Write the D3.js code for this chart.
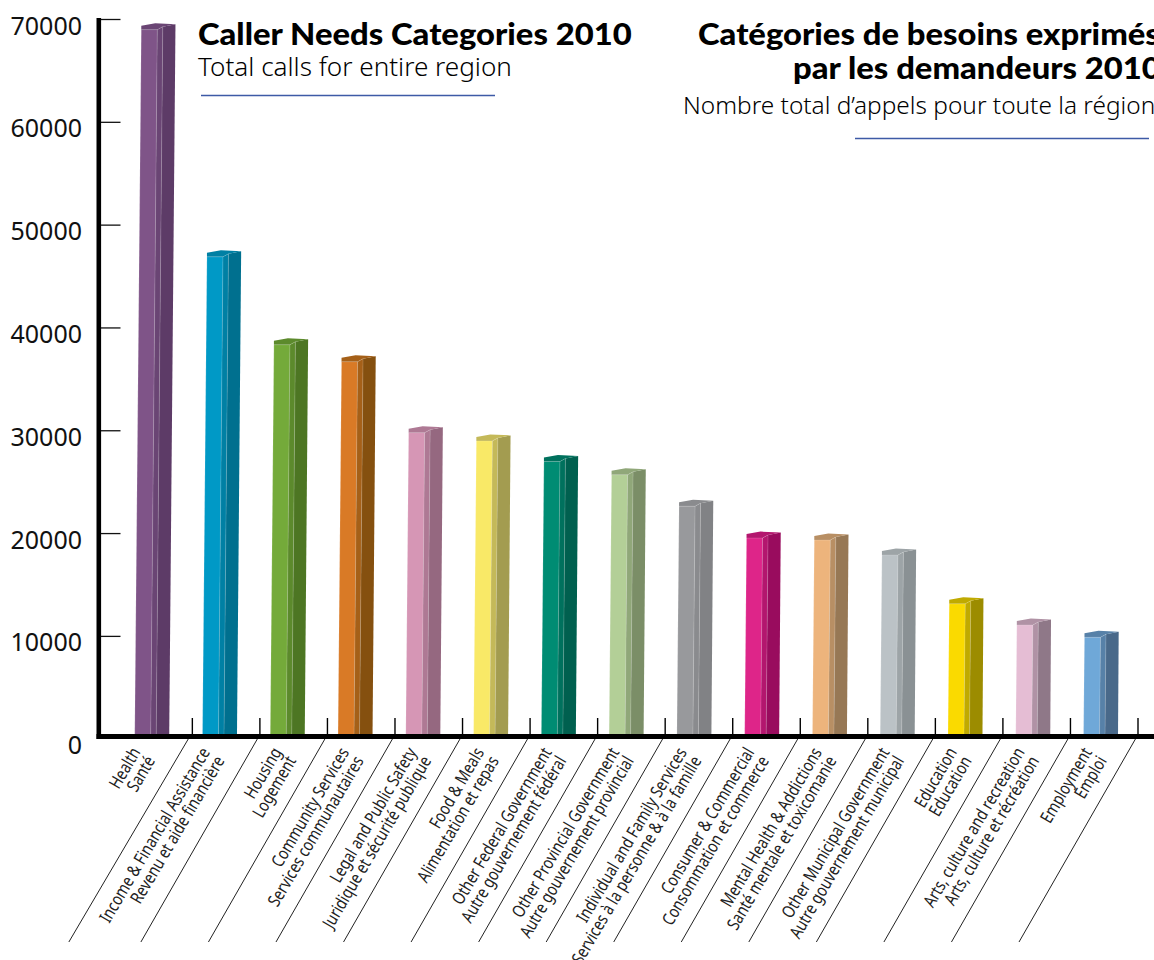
<!DOCTYPE html>
<html>
<head>
<meta charset="utf-8">
<script src="https://cdnjs.cloudflare.com/ajax/libs/d3/7.8.5/d3.min.js"></script>
<style>
  html, body { margin: 0; padding: 0; background: #fff; overflow: hidden; }
  svg { display: block; }
</style>
</head>
<body>
<svg id="chart" width="1154" height="960"></svg>
<script>
// Calls per need category, 2010
const categoriesEn = ["Health", "Income & Financial Assistance", "Housing", "Community Services", "Legal and Public Safety", "Food & Meals", "Other Federal Government", "Other Provincial Government", "Individual and Family Services", "Consumer & Commercial", "Mental Health & Addictions", "Other Municipal Government", "Education", "Arts, culture and recreation", "Employment"];
const categoriesFr = ["Santé", "Revenu et aide financière", "Logement", "Services communautaires", "Juridique et sécurité publique", "Alimentation et repas", "Autre gouvernement fédéral", "Autre gouvernement provincial", "Services à la personne & à la famille", "Consommation et commerce", "Santé mentale et toxicomanie", "Autre gouvernement municipal", "Education", "Arts, culture et récréation", "Emploi"];
const calls = [69500, 47400, 38850, 37200, 30300, 29500, 27500, 26200, 23150, 20050, 19850, 18400, 13650, 11600, 10400];
const yTicks = [0, 10000, 20000, 30000, 40000, 50000, 60000, 70000];
const frontColors = ["#7f5488", "#0099c6", "#74aa3a", "#d97a26", "#d696b5", "#f9e967", "#008c73", "#b3cf97", "#98999c", "#de2589", "#edb47c", "#bbc2c6", "#fada00", "#e5bdd4", "#6fa8d8"];
const sideColors = ["#5d3b67", "#00708f", "#4d7623", "#85500f", "#956880", "#a39c50", "#00604f", "#7b8e67", "#818285", "#990c5e", "#977855", "#8a9194", "#9c8c00", "#8f7888", "#49698a"];

const svg = d3.select("#chart");
const ruleY = 736.5;
const slots = d3.range(calls.length);

// Slots hold the separators; the prisms sit on a very slightly wider pitch
const x = d3.scaleBand().domain(slots).range([124.8, 1138]);
const xBar = d3.scalePoint().domain(slots).range([134.7, 1083.5]);
const y = d3.scaleLinear().domain([0, 70000]).range([738.7, 19]);

// Three-faced prism that leans slightly to the right with height
const lean = v => (y(0) - y(v)) * 0.0092;
const bars = svg.append("g").selectAll("g").data(calls).join("g");

function face(pointsFor, fill) {
  bars.append("polygon")
    .attr("fill", fill)
    .attr("points", (v, i) => pointsFor(v, xBar(i), lean(v), y(v)).map(p => p.join(",")).join(" "));
}
const midColor = (v, i) => d3.interpolateRgb(frontColors[i], sideColors[i])(0.62);

// front face
face((v, l, s, t) => [[l, ruleY], [l + 16, ruleY], [l + 16 + s, t + 5.5], [l + s, t + 5.5]], (v, i) => frontColors[i]);
// bevel strip
face((v, l, s, t) => [[l + 16, ruleY], [l + 21.5, ruleY], [l + 21.5 + s, t + 2.5], [l + 16 + s, t + 5.5]], midColor);
// right face
face((v, l, s, t) => [[l + 21.5, ruleY], [l + 34.5, ruleY], [l + 34.2 + s, t], [l + 21.5 + s, t + 2.5]], (v, i) => sideColors[i]);
// top cap
face((v, l, s, t) => [[l + s, t + 5.5], [l + s, t + 1.5], [l + s + 14, t - 1], [l + 34.2 + s, t], [l + 21.5 + s, t + 2.5], [l + 16 + s, t + 5.5]], midColor);

// pale edge highlights
bars.append("path")
  .attr("fill", "none").attr("stroke", "#fff").attr("stroke-opacity", 0.2).attr("stroke-width", 0.8)
  .attr("d", (v, i) => {
    const l = xBar(i), s = lean(v), t = y(v);
    return d3.line()([[l, ruleY], [l + s, t + 5.5], [l + 16 + s, t + 5.5], [l + 16, ruleY]])
      + d3.line()([[l + 21.5, ruleY], [l + 21.5 + s, t + 2.5], [l + 16 + s, t + 5.5]]);
  });

// Vertical axis: heavy rule, ticks pointing into the plot, numbers on the left
const yAxis = d3.axisRight(y).tickValues(yTicks).tickSize(20).tickPadding(0).tickFormat(d3.format("d"));
const yg = svg.append("g").attr("transform", "translate(100.5,0)").call(yAxis);
yg.select(".domain").attr("stroke", "none");
yg.selectAll(".tick line").attr("stroke", "#111").attr("stroke-width", 1.3)
  .attr("display", d => d === 0 ? "none" : null);
yg.selectAll(".tick text")
  .attr("x", -18.5).attr("dy", "0.32em")
  .attr("text-anchor", "end")
  .attr("transform", "translate(0,7)")
  .attr("fill", "#111")
  .style("font-family", "'Noto Sans'").style("font-size", "25px");
svg.append("line").attr("x1", 98.8).attr("x2", 98.8).attr("y1", y(70000) - 1).attr("y2", 739)
  .attr("stroke", "#000").attr("stroke-width", 4.6);

// Horizontal axis: rule, slot separators, slanted leader lines
const boundaries = slots.map(i => x(i) + x.bandwidth());
svg.append("g").selectAll("line").data(boundaries).join("line")
  .attr("x1", d => d).attr("x2", d => d).attr("y1", 718).attr("y2", ruleY)
  .attr("stroke", "#000").attr("stroke-width", 1.4);
svg.append("g").selectAll("line").data(boundaries).join("line")
  .attr("x1", (d, i) => d - (i === 0 ? 3.5 : 2)).attr("y1", 738)
  .attr("x2", (d, i) => d - (i === 0 ? 123.5 : 119)).attr("y2", 942)
  .attr("stroke", "#222").attr("stroke-width", 1);
svg.append("line").attr("x1", 96.5).attr("x2", 1154).attr("y1", ruleY).attr("y2", ruleY)
  .attr("stroke", "#000").attr("stroke-width", 4.8);

// Bilingual rotated category labels, right-aligned towards the axis
const labelShift = i => i === 0 ? -6 : i === 1 ? -4 : 0;
const labels = svg.append("g").selectAll("g").data(calls).join("g")
  .attr("transform", (d, i) => `translate(${x(i) + x.bandwidth() / 2 - 18.5 + labelShift(i)},748) rotate(-59.5)`);
function labelLine(names, dy) {
  labels.append("text")
    .attr("transform", `translate(0,${dy}) scale(0.81,1)`)
    .attr("text-anchor", "end")
    .attr("fill", "#222")
    .style("font-family", "'Noto Sans'").style("font-size", "17.5px")
    .text((d, i) => names[i]);
}
labelLine(categoriesEn, 8);
labelLine(categoriesFr, 25);

// Headings
function heading(txt, px, py, size, weight, fam, stretch) {
  svg.append("text")
    .attr("transform", `translate(${px},${py}) scale(${stretch},1)`)
    .attr("fill", "#000")
    .style("font-family", fam).style("font-size", size + "px").style("font-weight", weight)
    .text(txt);
}
heading("Caller Needs Categories 2010", 198, 45, 30, 900, "Lato", 1.093);
heading("Total calls for entire region", 198, 76, 25, 300, "'Noto Sans'", 1.044);
heading("Catégories de besoins exprimés", 698, 45, 30, 900, "Lato", 1.093);
heading("par les demandeurs 2010", 793, 79, 30, 900, "Lato", 1.093);
heading("Nombre total d’appels pour toute la région", 683, 114, 23.6, 300, "'Noto Sans'", 1.035);

const rules = [[201, 495, 95.5], [855, 1149, 138.5]];
svg.append("g").selectAll("line").data(rules).join("line")
  .attr("x1", d => d[0]).attr("x2", d => d[1]).attr("y1", d => d[2]).attr("y2", d => d[2])
  .attr("stroke", "#3d5aa6").attr("stroke-width", 1.4);
</script>
</body>
</html>
